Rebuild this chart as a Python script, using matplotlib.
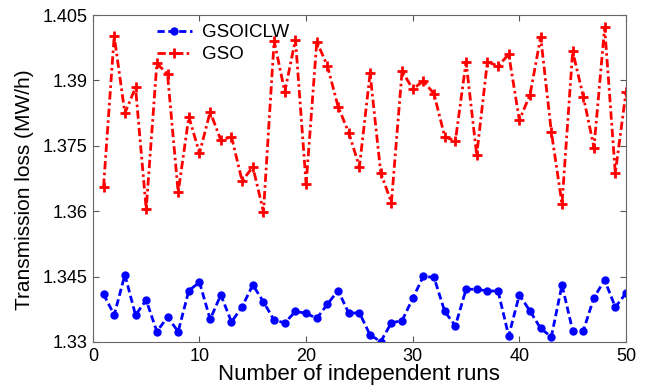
import matplotlib
matplotlib.use("Agg")
import matplotlib.pyplot as plt
import numpy as np

plt.rcParams['font.family'] = ['Liberation Sans', 'DejaVu Sans']

runs = list(range(1, 51))
gso = [1.3656, 1.4002, 1.3825, 1.3884, 1.3605, 1.3939, 1.3915, 1.3643, 1.3817, 1.3733,
       1.3828, 1.3763, 1.3771, 1.3669, 1.3702, 1.3599, 1.3991, 1.3874, 1.3994, 1.3662,
       1.3989, 1.3933, 1.3840, 1.3780, 1.3702, 1.3916, 1.3688, 1.3620, 1.3922, 1.3880,
       1.3899, 1.3869, 1.3771, 1.3761, 1.3943, 1.3729, 1.3943, 1.3933, 1.3960, 1.3809,
       1.3867, 1.4000, 1.3782, 1.3617, 1.3967, 1.3863, 1.3746, 1.4022, 1.3688, 1.3873]
gsoiclw = [1.3410, 1.3362, 1.3454, 1.3362, 1.3396, 1.3324, 1.3357, 1.3324, 1.3418, 1.3437,
           1.3352, 1.3408, 1.3346, 1.3381, 1.3431, 1.3392, 1.3350, 1.3344, 1.3370, 1.3366,
           1.3354, 1.3387, 1.3418, 1.3366, 1.3367, 1.3316, 1.3301, 1.3344, 1.3349, 1.3400,
           1.3451, 1.3448, 1.3370, 1.3337, 1.3421, 1.3421, 1.3417, 1.3417, 1.3314, 1.3408,
           1.3371, 1.3331, 1.3312, 1.3431, 1.3326, 1.3326, 1.3402, 1.3442, 1.3380, 1.3412]
xticks = [0, 10, 20, 30, 40, 50]
yticks = [1.33, 1.345, 1.36, 1.375, 1.39, 1.405]
ytick_labels = ['1.33', '1.345', '1.36', '1.375', '1.39', '1.405']

fig = plt.figure(figsize=(6.45, 3.87), dpi=100)
ax = fig.add_axes([0.144, 0.1163, 0.8265, 0.8447])

ax.plot(runs, gsoiclw, linestyle='--', color='blue', marker='o', markersize=5,
        linewidth=2.0, dashes=(2.6, 1.3), label='GSOICLW')
ax.plot(runs, gso, color='red', marker='+', markersize=7,
        markeredgewidth=2, linewidth=2.0, dashes=(3.0, 1.2, 0.9, 1.2), label='GSO')

ax.set_xlim(0, 50)
ax.set_ylim(1.33, 1.405)
ax.set_xticks(xticks)
ax.set_yticks(yticks)
ax.set_yticklabels(ytick_labels)
ax.tick_params(direction='in', top=True, right=True, labelsize=13, length=4, color='#555555', pad=4)
for s in ax.spines.values():
    s.set_color('#666666')

ax.set_xlabel('Number of independent runs', fontsize=16)
ax.xaxis.set_label_coords(0.5, -0.066)
ax.set_ylabel('Transmission loss (MW/h)', fontsize=15)
ax.yaxis.set_label_coords(-0.111, 0.465)

ax.legend(loc='upper left', bbox_to_anchor=(0.095, 1.012), frameon=False, fontsize=13.5,
          handlelength=1.9, handletextpad=0.5, borderaxespad=0.3, labelspacing=0.25)

fig.savefig('out.png', dpi=100)
